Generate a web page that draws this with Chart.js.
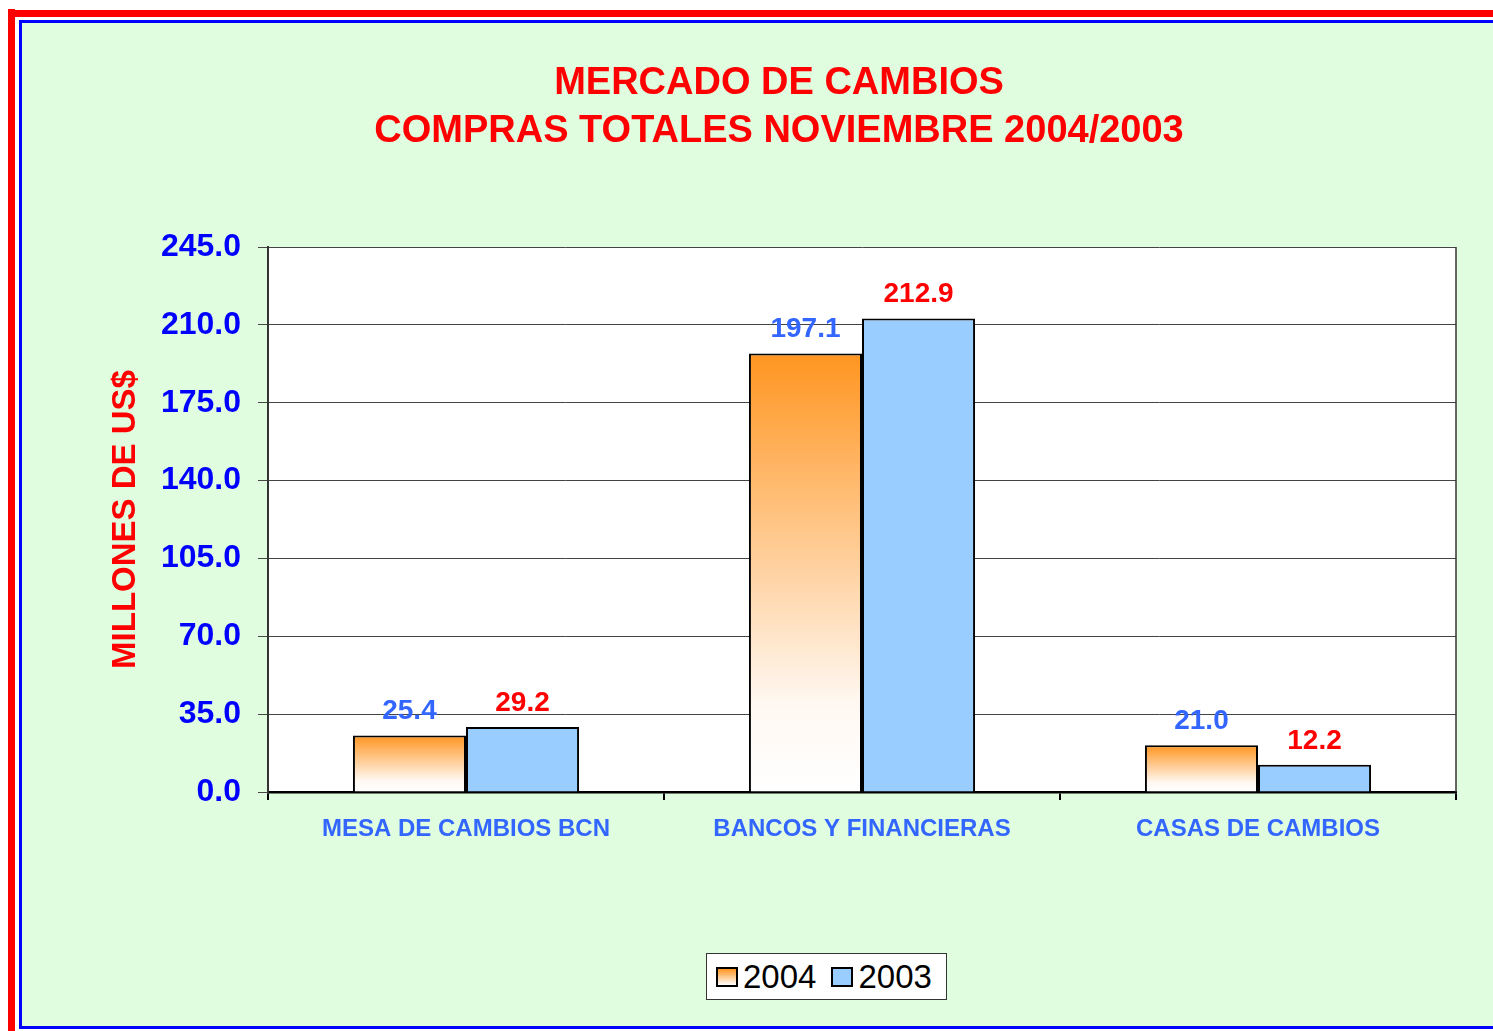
<!DOCTYPE html>
<html>
<head>
<meta charset="utf-8">
<script src="https://cdn.jsdelivr.net/npm/chart.js@4.4.1/dist/chart.umd.min.js"></script>
<style>
    html, body { margin: 0; padding: 0; overflow: hidden; }
    body { width: 1493px; height: 1031px; background: #ffffff; position: relative; font-family: "Liberation Sans", Arial, sans-serif; }
    .frame-red-left { position: absolute; left: 8px; top: 9px; width: 7px; height: 1022px; background: #ff0000; }
    .frame-red-top { position: absolute; left: 8px; top: 10px; right: 0; height: 7px; background: #ff0000; }
    .panel { position: absolute; left: 19px; top: 20px; right: -10px; bottom: 2px; background: #e0fde0; border: 3px solid #0000ff; }
    #chart { position: absolute; left: 0; top: 0; }
    .legend { position: absolute; left: 706px; top: 953px; width: 239px; height: 45px; background: #ffffff; border: 1px solid #333; display: flex; align-items: center; font-size: 33px; color: #000; }
    .legend .sw { width: 18px; height: 16px; border: 2px solid #000; margin-left: 9px; margin-right: 5px; }
    .legend .sw.b { margin-left: 15px; }
</style>
</head>
<body>
<div class="frame-red-left"></div>
<div class="frame-red-top"></div>
<div class="panel"></div>
<canvas id="chart" width="1550" height="1031"></canvas>
<div class="legend" id="legend"></div>

<script>
// Chart data
const categories = ["MESA DE CAMBIOS BCN", "BANCOS Y FINANCIERAS", "CASAS DE CAMBIOS"];
const seriesNames = ["2004", "2003"];
const values2004 = [25.4, 197.1, 21.0];
const values2003 = [29.2, 212.9, 12.2];
const titleLines = ["MERCADO DE CAMBIOS", "COMPRAS TOTALES NOVIEMBRE 2004/2003"];
const yTitle = "MILLONES DE US$";

const FONT = '"Liberation Sans", Arial, sans-serif';
const ORANGE = '#ff9520';
const BLUE = '#99ccff';

// orange fades to white towards the base of each bar
function orangeFill(context) {
    const chart = context.chart;
    if(!chart.chartArea || context.parsed === undefined) return ORANGE;
    const y = chart.scales.y;
    const top = y.getPixelForValue(context.parsed.y);
    const base = y.getPixelForValue(0);
    if(!isFinite(top) || base - top < 1) return ORANGE;
    const g = chart.ctx.createLinearGradient(0, top, 0, base);
    g.addColorStop(0, ORANGE);
    g.addColorStop(0.8, '#fff8f2');
    g.addColorStop(1, '#ffffff');
    return g;
}

const plotBackground = {
    id: 'plotBackground',
    beforeDraw(chart) {
        const {ctx, chartArea} = chart;
        ctx.save();
        ctx.fillStyle = '#ffffff';
        ctx.fillRect(chartArea.left, chartArea.top, chartArea.right - chartArea.left, chartArea.bottom - chartArea.top);
        ctx.restore();
    },
    afterDraw(chart) {
        const {ctx, chartArea} = chart;
        ctx.save();
        ctx.strokeStyle = '#333';
        ctx.lineWidth = 1.5;
        ctx.beginPath();
        ctx.moveTo(chartArea.right, chartArea.top);
        ctx.lineTo(chartArea.right, chartArea.bottom);
        ctx.stroke();
        ctx.restore();
    }
};

const valueLabels = {
    id: 'valueLabels',
    afterDatasetsDraw(chart) {
        const ctx = chart.ctx;
        const colors = ['#3366ff', '#ff0000'];
        ctx.save();
        ctx.font = 'bold 28px ' + FONT;
        ctx.textAlign = 'center';
        ctx.textBaseline = 'middle';
        chart.data.datasets.forEach((ds, i) => {
            const meta = chart.getDatasetMeta(i);
            ctx.fillStyle = colors[i];
            meta.data.forEach((bar, j) => {
                ctx.fillText(ds.data[j].toFixed(1), bar.x, bar.y - 24);
            });
        });
        ctx.restore();
    }
};

const ctx = document.getElementById('chart').getContext('2d');
new Chart(ctx, {
    type: 'bar',
    data: {
        labels: categories,
        datasets: [
            {
                label: seriesNames[0],
                data: values2004,
                backgroundColor: orangeFill,
                borderColor: '#000',
                borderWidth: 2,
                categoryPercentage: 0.571,
                barPercentage: 1
            },
            {
                label: seriesNames[1],
                data: values2003,
                backgroundColor: BLUE,
                borderColor: '#000',
                borderWidth: 2,
                categoryPercentage: 0.571,
                barPercentage: 1
            }
        ]
    },
    options: {
        responsive: false,
        devicePixelRatio: 1,
        animation: false,
        layout: { padding: { left: 102, right: 94, top: 0, bottom: 0 } },
        plugins: {
            legend: { display: false },
            tooltip: { enabled: false },
            title: {
                display: true,
                text: titleLines,
                color: '#ff0000',
                font: { family: FONT, size: 38, weight: 'bold', lineHeight: 48 / 38 },
                padding: { top: 60, bottom: 91 }
            }
        },
        scales: {
            x: {
                afterFit(scale) { scale.height = 239; },
                grid: {
                    drawOnChartArea: false,
                    drawTicks: true,
                    tickLength: 8,
                    color: '#000',
                    lineWidth: 2
                },
                border: { display: true, color: '#000', width: 2.5 },
                ticks: {
                    color: '#3366ff',
                    padding: 15,
                    font: { family: FONT, size: 24, weight: 'bold' }
                }
            },
            y: {
                min: 0,
                max: 245,
                afterFit(scale) { scale.width = 166; },
                grid: {
                    color: '#444',
                    lineWidth: 1,
                    tickLength: 10
                },
                border: { display: true, color: '#333', width: 2 },
                ticks: {
                    stepSize: 35,
                    color: '#0000ff',
                    padding: 17,
                    font: { family: FONT, size: 32, weight: 'bold' },
                    callback: function(value) {
                        return Number(value).toFixed(1);
                    }
                },
                title: {
                    display: true,
                    text: yTitle,
                    color: '#ff0000',
                    font: { family: FONT, size: 33, weight: 'bold' }
                }
            }
        }
    },
    plugins: [plotBackground, valueLabels]
});

// legend box
const legend = document.getElementById('legend');
const swatchStyles = ['linear-gradient(#ff9520, #ffffff)', BLUE];
seriesNames.forEach((name, i) => {
    const sw = document.createElement('span');
    sw.className = 'sw' + (i ? ' b' : '');
    sw.style.background = swatchStyles[i];
    const txt = document.createElement('span');
    txt.textContent = name;
    legend.appendChild(sw);
    legend.appendChild(txt);
});
</script>
</body>
</html>
